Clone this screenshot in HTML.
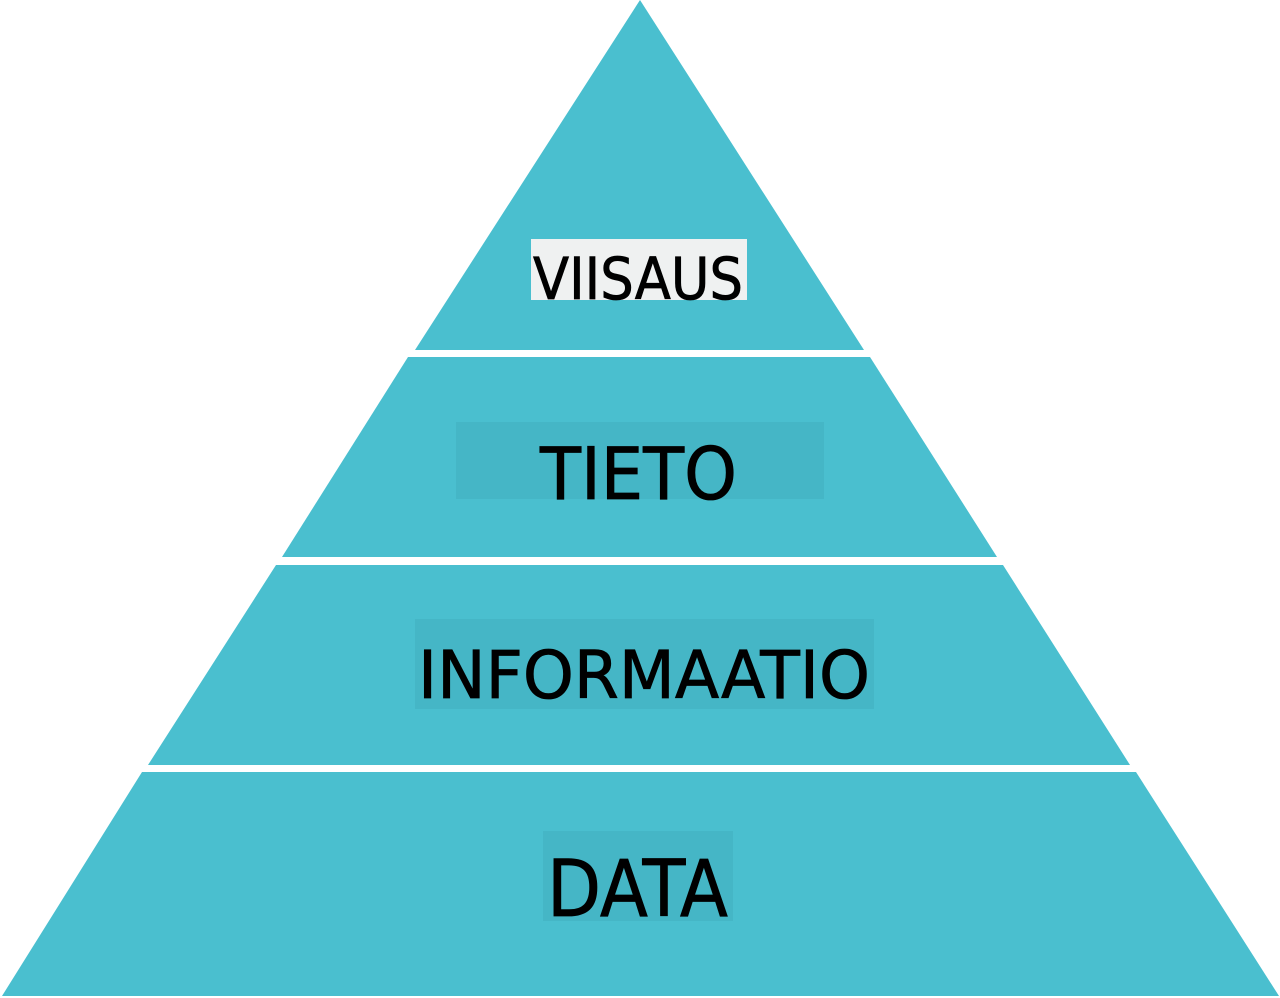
<!DOCTYPE html>
<html><head><meta charset="utf-8"><style>
html,body{margin:0;padding:0;background:#fff;width:1280px;height:998px;overflow:hidden}
svg{display:block}
text{font-family:"DejaVu Sans","Liberation Sans",sans-serif;fill:#000;stroke:#000;stroke-width:0.8}
</style></head><body>
<svg width="1280" height="998" viewBox="0 0 1280 998">
<g fill="#4ABFCF">
<polygon points="640,0 864,350 415,350"/>
<polygon points="408,357 870,357 997,557 282,557"/>
<polygon points="276,565 1003,565 1130,765 148,765"/>
<polygon points="142,772 1136,772 1279,996 2,996"/>
</g>
<rect x="531" y="239" width="216" height="61" fill="#EFF1F1"/>
<rect x="456" y="422" width="368" height="77" fill="#45B6C6"/>
<rect x="415" y="619" width="459" height="90" fill="#45B6C6"/>
<rect x="543" y="831" width="190" height="90" fill="#45B6C6"/>
<text x="533" y="299" font-size="58" textLength="210" lengthAdjust="spacingAndGlyphs">VIISAUS</text>
<text x="540" y="499" font-size="72" textLength="197" lengthAdjust="spacingAndGlyphs">TIETO</text>
<text x="418" y="698" font-size="66" textLength="452" lengthAdjust="spacingAndGlyphs">INFORMAATIO</text>
<text x="547" y="916" font-size="78" textLength="181" lengthAdjust="spacingAndGlyphs">DATA</text>
</svg>
</body></html>
